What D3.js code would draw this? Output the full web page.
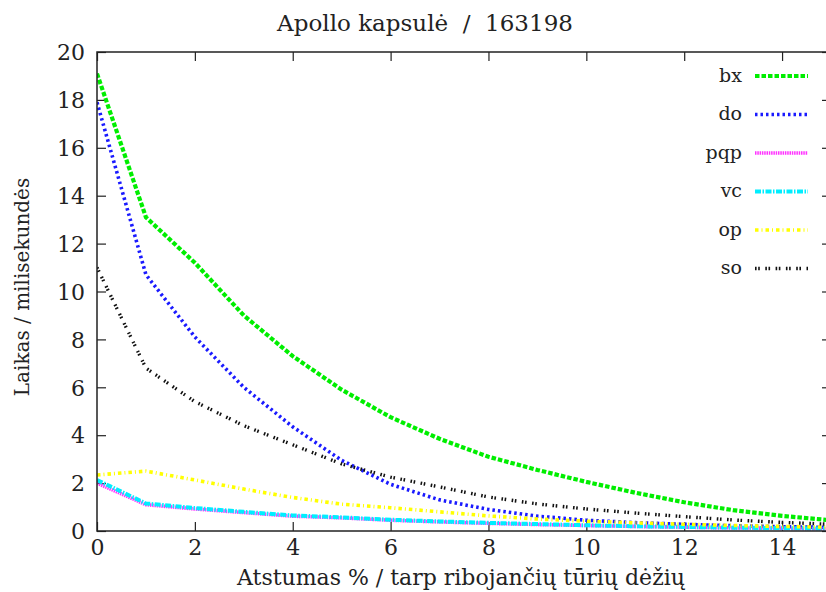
<!DOCTYPE html>
<html><head><meta charset="utf-8">
<script src="https://cdn.jsdelivr.net/npm/d3@7"></script>
<style>
html,body{margin:0;padding:0;background:#fff;}
svg{display:block;}
</style></head>
<body>
<script>
const xValues = [0,1,2,3,4,5,6,7,8,9,10,11,12,13,14,15];
const bx  = [19.1,13.1,11.2,9.0,7.3,5.9,4.75,3.85,3.1,2.55,2.05,1.6,1.2,0.87,0.63,0.45];
const doS = [17.9,10.7,8.1,6.0,4.35,2.95,1.95,1.3,0.9,0.62,0.45,0.35,0.28,0.22,0.18,0.15];
const pqp = [2.0,1.1,0.92,0.77,0.62,0.55,0.45,0.38,0.32,0.27,0.23,0.19,0.16,0.13,0.11,0.09];
const vc  = [2.13,1.15,0.96,0.8,0.65,0.57,0.47,0.4,0.34,0.29,0.24,0.2,0.17,0.14,0.12,0.1];
const op  = [2.34,2.5,2.13,1.75,1.4,1.12,0.97,0.8,0.63,0.5,0.41,0.34,0.28,0.23,0.19,0.16];
const so  = [11.0,6.8,5.4,4.4,3.6,2.8,2.25,1.84,1.42,1.13,0.92,0.75,0.6,0.46,0.36,0.28];
const seriesNames = ["bx","do","pqp","vc","op","so"];
const xTicks = [0,2,4,6,8,10,12,14];
const yTicks = [0,2,4,6,8,10,12,14,16,18,20];
const title = "Apollo kapsulė\u00A0\u00A0/\u00A0\u00A0163198";
const xLabel = "Atstumas % / tarp ribojančių tūrių dėžių";
const yLabel = "Laikas / milisekundės";

const FONT = "'DejaVu Serif', 'Liberation Serif', serif";

const seriesData = [bx, doS, pqp, vc, op, so];
const styles = [
  {color:"#00ee00", width:4.2, dash:"4.5,2"},
  {color:"#1a1aff", width:3.6, dash:"2.5,3"},
  {color:"#ff33ff", width:3.6, dash:"1.5,0.8"},
  {color:"#00eeff", width:4.0, dash:"6,1.5,1.5,1.5"},
  {color:"#ffff00", width:3.6, dash:"3.5,3,1,3"},
  {color:"#111111", width:3.4, dash:"1.6,1.6,1.6,5.5"}
];

const W = 826, H = 592;
const L = 97, R = 831, T = 52, B = 531;
const svg = d3.select("body").append("svg").attr("width",W).attr("height",H)
  .attr("font-family",FONT);

const x = d3.scaleLinear().domain([0,15]).range([L,R]);
const y = d3.scaleLinear().domain([0,20]).range([B,T]);

svg.append("defs").append("clipPath").attr("id","clip")
  .append("rect").attr("x",L).attr("y",T).attr("width",R-L).attr("height",B-T);

const tk = 9;
const axB = svg.append("g").attr("transform",`translate(0,${B})`)
  .call(d3.axisBottom(x).tickValues(xTicks).tickSizeInner(-tk).tickSizeOuter(0).tickPadding(8));
const axT = svg.append("g").attr("transform",`translate(0,${T})`)
  .call(d3.axisTop(x).tickValues(xTicks).tickSizeInner(-tk).tickSizeOuter(0).tickFormat(""));
const axL = svg.append("g").attr("transform",`translate(${L},0)`)
  .call(d3.axisLeft(y).tickValues(yTicks).tickSizeInner(-tk).tickSizeOuter(0).tickPadding(12));
const axR = svg.append("g").attr("transform",`translate(${R},0)`)
  .call(d3.axisRight(y).tickValues(yTicks).tickSizeInner(-tk).tickSizeOuter(0).tickFormat(""));
[axB,axT,axL,axR].forEach(g=>{
  g.attr("font-family",FONT);
  g.select(".domain").remove();
  g.selectAll(".tick line").attr("stroke","#222").attr("stroke-width",1.2);
  g.selectAll(".tick text").attr("font-size",22).attr("fill","#222").attr("font-family",FONT);
});
axL.selectAll(".tick text").attr("dy","0.35em");

const line = d3.line().x((d,i)=>x(xValues[i])).y(d=>y(d));
const plot = svg.append("g").attr("clip-path","url(#clip)");
seriesData.forEach((s,i)=>{
  plot.append("path").datum(s).attr("d",line)
    .attr("fill","none").attr("stroke",styles[i].color)
    .attr("stroke-width",styles[i].width).attr("stroke-dasharray",styles[i].dash);
});

const legY0 = 76, legDy = 38.5;
seriesNames.forEach((n,i)=>{
  const yy = legY0 + i*legDy;
  svg.append("text").attr("x",742).attr("y",yy).attr("dy","0.3em")
    .attr("text-anchor","end").attr("font-size",19).attr("fill","#222")
    .attr("font-family",FONT).text(n);
  svg.append("line").attr("x1",755).attr("x2",808).attr("y1",yy).attr("y2",yy)
    .attr("stroke",styles[i].color).attr("stroke-width",styles[i].width)
    .attr("stroke-dasharray",styles[i].dash);
});

svg.append("rect").attr("x",L).attr("y",T).attr("width",R-L).attr("height",B-T)
  .attr("fill","none").attr("stroke","#222").attr("stroke-width",1.5);

svg.append("text").attr("x",425).attr("y",31).attr("text-anchor","middle")
  .attr("font-size",23).attr("fill","#222").attr("font-family",FONT).text(title);
svg.append("text").attr("x",461).attr("y",585).attr("text-anchor","middle")
  .attr("font-size",22).attr("fill","#222").attr("font-family",FONT).text(xLabel);
svg.append("text").attr("transform",`translate(29,287) rotate(-90)`)
  .attr("text-anchor","middle").attr("font-size",20).attr("fill","#222")
  .attr("font-family",FONT).text(yLabel);
</script>
</body></html>
